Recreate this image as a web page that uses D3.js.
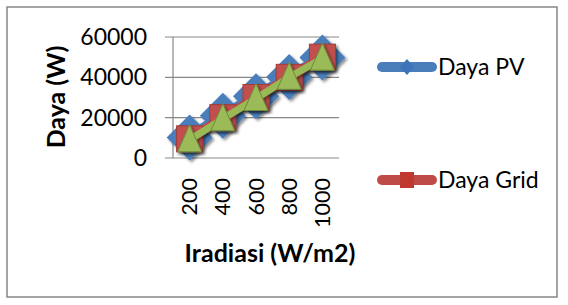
<!DOCTYPE html>
<html>
<head>
<meta charset="utf-8">
<script src="https://cdn.jsdelivr.net/npm/d3@7"></script>
<style>
  body { margin: 0; background: #fff; }
  text { font-family: Lato, "Open Sans", sans-serif; fill: #000; }
</style>
</head>
<body>
<div id="chart"></div>
<script>
// data
var irradiance = ["200", "400", "600", "800", "1000"];
var dayaPV   = [10200, 21000, 30600, 40200, 49800];
var dayaGrid = [9500, 20000, 30000, 40000, 50000];
var dayaLoad = [9000, 19500, 29500, 40000, 49500];   // green triangles, no legend entry
var yTicks = [0, 20000, 40000, 60000];

var W = 568, H = 305;
var margin = {top: 37, left: 173, right: 229, bottom: 147};
var width = W - margin.left - margin.right,
    height = H - margin.top - margin.bottom;

var svg = d3.select("#chart").append("svg")
    .attr("width", W)
    .attr("height", H);

var defs = svg.append("defs");
var f = defs.append("filter").attr("id", "shadow")
    .attr("x", "-30%").attr("y", "-30%").attr("width", "160%").attr("height", "160%");
f.append("feDropShadow").attr("dx", 2).attr("dy", 2)
    .attr("stdDeviation", 1.6).attr("flood-opacity", 0.45);

svg.append("rect")
    .attr("x", 7).attr("y", 7).attr("width", 550).attr("height", 290)
    .attr("fill", "#fff").attr("stroke", "#878787").attr("stroke-width", 1.5);

var g = svg.append("g")
    .attr("transform", "translate(" + margin.left + "," + margin.top + ")");

var x = d3.scaleBand().domain(irradiance).range([0, width]);
var y = d3.scaleLinear().domain([0, 60000]).range([height, 0]);

//gridlines + tick marks
g.selectAll(".grid").data(yTicks).enter().append("line")
    .attr("x1", -8).attr("x2", width)
    .attr("y1", function(d) { return y(d); })
    .attr("y2", function(d) { return y(d); })
    .attr("stroke", "#878787").attr("stroke-width", 1.2);

g.append("line")
    .attr("x1", 0).attr("x2", 0).attr("y1", 0).attr("y2", height)
    .attr("stroke", "#878787").attr("stroke-width", 1.2);

//y tick labels
var yAxis = d3.axisLeft(y).tickValues(yTicks).tickFormat(d3.format("d"))
    .tickSize(0).tickPadding(26);
g.append("g").call(yAxis)
    .call(function(s) { s.select(".domain").remove(); })
    .selectAll("text")
    .style("font-size", "23px")
    .attr("font-family", null);

//x tick labels, rotated
var xAxis = d3.axisBottom(x).tickSize(0).tickPadding(0);
g.append("g").attr("transform", "translate(0," + height + ")").call(xAxis)
    .call(function(s) { s.select(".domain").remove(); })
    .selectAll("text")
    .style("font-size", "21.5px")
    .attr("font-family", null)
    .style("text-anchor", "end")
    .attr("transform", "translate(0,20) rotate(-90)")
    .attr("x", 0).attr("y", 0).attr("dy", "0.35em");

var cx = function(d, i) { return x(irradiance[i]) + x.bandwidth() / 2; };
var line = d3.line()
    .x(function(d, i) { return cx(d, i); })
    .y(function(d) { return y(d); });

//PV : thick blue line + big diamonds
var pv = g.append("g").attr("filter", "url(#shadow)");
pv.append("path").datum(dayaPV).attr("d", line)
    .attr("fill", "none").attr("stroke", "#4a7ebb").attr("stroke-width", 11)
    .attr("stroke-linecap", "round");
pv.selectAll("path.m").data(dayaPV).enter().append("path")
    .attr("class", "m")
    .attr("d", "M0,-23L23,0L0,23L-23,0Z")
    .attr("transform", function(d, i) { return "translate(" + cx(d, i) + "," + y(d) + ")"; })
    .attr("fill", "#4a7ebb");

//Grid : red line + squares
var gr = g.append("g").attr("filter", "url(#shadow)");
gr.append("path").datum(dayaGrid).attr("d", line)
    .attr("fill", "none").attr("stroke", "#be4b48").attr("stroke-width", 9);
gr.selectAll("rect").data(dayaGrid).enter().append("rect")
    .attr("x", function(d, i) { return cx(d, i) - 13; })
    .attr("y", function(d) { return y(d) - 13; })
    .attr("width", 26).attr("height", 26)
    .attr("fill", "#c0504d").attr("stroke", "#a53c39").attr("stroke-width", 1);

//third series : green line + triangles
var gn = g.append("g").attr("filter", "url(#shadow)");
gn.append("path").datum(dayaLoad).attr("d", line)
    .attr("fill", "none").attr("stroke", "#98b954").attr("stroke-width", 7);
gn.selectAll("path.t").data(dayaLoad).enter().append("path")
    .attr("class", "t")
    .attr("d", "M0,-15L12,12L-12,12Z")
    .attr("transform", function(d, i) { return "translate(" + cx(d, i) + "," + y(d) + ")"; })
    .attr("fill", "#9bbb59").attr("stroke", "#6f8a3a").attr("stroke-width", 1);

//axis titles
svg.append("text")
    .attr("transform", "translate(65,97) rotate(-90)")
    .attr("text-anchor", "middle")
    .style("font-size", "25px").style("font-weight", "bold")
    .text("Daya (W)");

svg.append("text")
    .attr("x", 270).attr("y", 262)
    .attr("text-anchor", "middle")
    .style("font-size", "25px").style("font-weight", "bold")
    .text("Iradiasi (W/m2)");

//legend
var legend = [
  {name: "Daya PV", color: "#4a7ebb", y: 67, shape: "diamond"},
  {name: "Daya Grid", color: "#be4b48", y: 180, shape: "square"}
];
var lg = svg.selectAll(".lg").data(legend).enter().append("g")
    .attr("transform", function(d) { return "translate(0," + d.y + ")"; });
lg.append("line")
    .attr("x1", 382).attr("x2", 432)
    .attr("stroke", function(d) { return d.color; })
    .attr("stroke-width", 10).attr("stroke-linecap", "round");
lg.append("path")
    .attr("d", function(d) {
      return d.shape == "diamond" ? "M407,-8L414,0L407,8L400,0Z" : "M400,-8H414V8H400Z";
    })
    .attr("fill", function(d) { return d.shape == "diamond" ? "#3d73b8" : "#c0392f"; });
lg.append("text")
    .attr("x", 438).attr("y", 0).attr("dy", "0.36em")
    .style("font-size", "23px")
    .text(function(d) { return d.name; });
</script>
</body>
</html>
